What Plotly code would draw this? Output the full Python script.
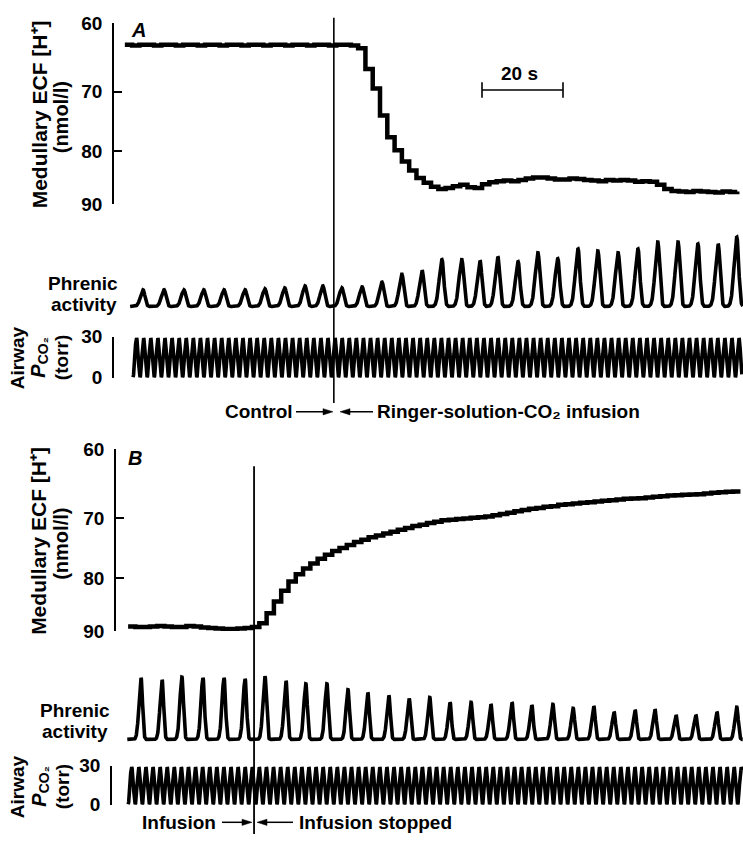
import numpy as np
import plotly.graph_objects as go

W, H = 743, 845
FONT = "Liberation Sans"
PX_PER_S = 4.05            # horizontal scale of both records (20 s = 81 px)
T_LEFT_PX = 120            # pixel column where t = 0
T_SPAN = (W - T_LEFT_PX) / PX_PER_S

# ---------------- Panel A: Ringer-solution-CO2 infusion ----------------
# medullary ECF [H+] (nmol/l), one reading per ventilator cycle
h_dt = 1.8
hA_t0 = 1.2
hA = [63.0, 63.1, 63.0, 63.0, 63.1, 63.0, 63.0, 63.1, 63.0, 63.0,
      63.1, 63.0, 63.0, 63.1, 63.0, 63.0, 63.1, 63.0, 63.0, 63.1,
      63.0, 63.0, 63.1, 63.0, 63.0, 63.1, 63.0, 63.0, 63.1, 63.0,
      63.0, 63.1, 63.5, 66.5, 69.5, 73.8, 77.5, 79.8, 81.8, 83.5,
      84.9, 85.8, 86.6, 87.0, 86.8, 86.5, 86.2, 86.7, 86.8, 86.1,
      85.7, 85.5, 85.4, 85.5, 85.3, 85.0, 84.8, 84.8, 85.0, 85.2,
      85.2, 85.0, 85.1, 85.3, 85.4, 85.5, 85.3, 85.4, 85.3, 85.4,
      85.6, 85.5, 85.6, 86.2, 87.0, 87.4, 87.5, 87.6, 87.4, 87.5,
      87.6, 87.7, 87.5, 87.6, 87.5]
# phrenic bursts: peak times (s) and heights (arbitrary units)
phrA_t = [5.7, 10.9, 15.8, 20.7, 25.7, 30.9, 35.8, 40.7, 45.7, 50.1,
          54.8, 59.8, 64.7, 69.6, 74.6, 79.5, 84.4, 88.9, 93.3, 98.3,
          103.2, 108.1, 113.1, 118.0, 123.0, 127.9, 132.8, 137.8, 142.7,
          147.7, 152.3]
phrA_amp = [17, 17, 17, 17, 17, 17, 18, 19, 21, 21,
            19, 20, 25, 33, 37, 48, 48, 47, 51, 46,
            55, 49, 59, 57, 55, 59, 66, 66, 64, 64, 71]
pco2A_span = (3.2, 153.6)
markA_t = 52.8            # start of infusion

# ---------------- Panel B: infusion stopped ----------------
hB_t0 = 2.0
hB = [89.1, 89.2, 89.2, 89.1, 89.0, 89.1, 89.2, 89.2, 89.0, 89.1,
      89.3, 89.4, 89.5, 89.6, 89.6, 89.5, 89.4, 89.2, 88.5, 86.5,
      84.3, 82.3, 80.6, 79.3, 78.3, 77.4, 76.6, 75.9, 75.3, 74.8,
      74.3, 73.8, 73.4, 73.0, 72.7, 72.4, 72.1, 71.8, 71.5, 71.2,
      71.0, 70.7, 70.5, 70.3, 70.2, 70.1, 70.0, 69.9, 69.8, 69.7,
      69.5, 69.3, 69.1, 68.9, 68.7, 68.5, 68.4, 68.2, 68.1, 67.9,
      67.8, 67.7, 67.6, 67.5, 67.4, 67.3, 67.2, 67.1, 67.0, 66.95,
      66.9, 66.8, 66.7, 66.6, 66.5, 66.45, 66.4, 66.35, 66.3, 66.2,
      66.1, 66.0, 65.95, 65.9, 65.9]
phrB_t = [5.2, 10.4, 15.3, 20.5, 25.7, 30.9, 35.8, 41.0, 45.9, 51.1,
          56.3, 61.2, 66.4, 71.4, 76.5, 81.5, 86.7, 91.6, 96.8, 101.7,
          106.9, 111.9, 117.0, 122.0, 127.2, 132.1, 137.3, 142.2, 147.4,
          152.3]
phrB_amp = [63, 61, 64, 63, 63, 62, 65, 60, 57, 57,
            51, 48, 45, 42, 43, 38, 38, 36, 38, 35,
            36, 32, 34, 28, 30, 31, 25, 25, 28, 33]
pco2B_span = (2.0, 153.6)
markB_t = 33.1            # infusion stopped

# airway CO2 (torr) from the ventilator cycle
vent_period = 1.75
pco2_peak, pco2_floor = 29.0, 0.3
# burst rise / decay time constants (s) for each record
burstA = (0.95, 0.65)
burstB = (0.72, 0.5)


def phrenic_wave(times, amps, t0, t1, rise, fall):
    t = np.arange(t0, t1, 0.04)
    y = np.zeros_like(t)
    for tp, a in zip(times, amps):
        d = t - tp
        s = np.where(d < 0, rise, fall)
        y += a * np.exp(-(d / s) ** 2)
    return t, y


def pco2_wave(t0, t1):
    t = np.arange(t0, t1, 0.05)
    ph = 2 * np.pi * (t - t0) / vent_period
    return t, pco2_floor + (pco2_peak - pco2_floor) * (0.5 - 0.5 * np.cos(ph))


def fx(p):
    return p / W


def fy(p):
    return 1 - p / H


fig = go.Figure()
K = "black"

tA = [hA_t0 + i * h_dt for i in range(len(hA))]
tB = [hB_t0 + i * h_dt for i in range(len(hB))]
fig.add_trace(go.Scatter(x=tA, y=hA, yaxis="y", mode="lines",
                         line=dict(color=K, width=4.5, shape="hv")))
t, y = phrenic_wave(phrA_t, phrA_amp, 2.5, 153.8, *burstA)
fig.add_trace(go.Scatter(x=t, y=y, yaxis="y2", mode="lines", line=dict(color=K, width=3.6)))
t, y = pco2_wave(*pco2A_span)
fig.add_trace(go.Scatter(x=t, y=y, yaxis="y3", mode="lines", line=dict(color=K, width=3.6)))

fig.add_trace(go.Scatter(x=tB, y=hB, yaxis="y4", mode="lines",
                         line=dict(color=K, width=4.5, shape="hv")))
t, y = phrenic_wave(phrB_t, phrB_amp, 1.8, 153.8, *burstB)
fig.add_trace(go.Scatter(x=t, y=y, yaxis="y5", mode="lines", line=dict(color=K, width=3.6)))
t, y = pco2_wave(*pco2B_span)
fig.add_trace(go.Scatter(x=t, y=y, yaxis="y6", mode="lines", line=dict(color=K, width=3.6)))

tickfont = dict(family=FONT, size=19, color=K, weight="bold")


def conc_axis(top, bottom, xpos):
    return dict(domain=[fy(bottom), fy(top)], type="log",
                range=[np.log10(90), np.log10(60)],
                tickvals=[60, 70, 80, 90], ticktext=["60", "70", "80", "90"],
                ticks="inside", ticklen=8, tickwidth=1.6, tickcolor=K,
                showline=True, linewidth=1.6, linecolor=K,
                anchor="free", position=fx(xpos), showgrid=False,
                zeroline=False, tickfont=tickfont, ticklabelstandoff=6)


def pco2_axis(top, bottom, xpos):
    return dict(domain=[fy(bottom), fy(top)], range=[0, 30],
                tickvals=[0, 30], ticktext=["0", "30"],
                ticks="inside", ticklen=8, tickwidth=1.6,
                tickcolor=K, showline=True, linewidth=1.6, linecolor=K,
                anchor="free", position=fx(xpos), showgrid=False,
                zeroline=False, tickfont=tickfont, ticklabelstandoff=6)


def phrenic_axis(top, bottom, base):
    return dict(domain=[fy(bottom), fy(top)], range=[base - bottom, base - top],
                visible=False, anchor="free", position=0)


fig.update_layout(
    width=W, height=H, margin=dict(l=0, r=0, t=0, b=0),
    paper_bgcolor="white", plot_bgcolor="white", showlegend=False,
    xaxis=dict(domain=[fx(T_LEFT_PX), 1], range=[0, T_SPAN], visible=False),
    yaxis=conc_axis(13.3, 199, 113),
    yaxis2=phrenic_axis(222, 310, 304),
    yaxis3=pco2_axis(335, 377, 113),
    yaxis4=conc_axis(450.7, 636.7, 115),
    yaxis5=phrenic_axis(660, 754, 748),
    yaxis6=pco2_axis(775, 815, 111),
)

shapes = []
# event markers
shapes.append(dict(type="line", xref="x", yref="paper", x0=markA_t, x1=markA_t,
                   y0=fy(8), y1=fy(403), line=dict(color=K, width=1.6)))
shapes.append(dict(type="line", xref="x", yref="paper", x0=markB_t, x1=markB_t,
                   y0=fy(468), y1=fy(845), line=dict(color=K, width=1.8)))
# 20 s time bar
bar_t0 = (482 - T_LEFT_PX) / PX_PER_S
shapes.append(dict(type="line", xref="x", yref="paper", x0=bar_t0, x1=bar_t0 + 20,
                   y0=fy(82), y1=fy(82), line=dict(color=K, width=1.6)))
for bt in (bar_t0, bar_t0 + 20):
    shapes.append(dict(type="line", xref="x", yref="paper", x0=bt, x1=bt,
                       y0=fy(74), y1=fy(90), line=dict(color=K, width=1.6)))


def arrow(x_head, x_tail, y):
    """Horizontal arrow with a filled triangular head (pixel coordinates)."""
    d = 1 if x_head > x_tail else -1
    hl, hw = 10, 3.2
    shapes.append(dict(type="line", xref="paper", yref="paper",
                       x0=fx(x_tail), x1=fx(x_head - d * hl * 0.6), y0=fy(y), y1=fy(y),
                       line=dict(color=K, width=1.5)))
    path = (f"M {fx(x_head)} {fy(y)} L {fx(x_head - d * hl)} {fy(y - hw)} "
            f"L {fx(x_head - d * hl)} {fy(y + hw)} Z")
    shapes.append(dict(type="path", xref="paper", yref="paper", path=path,
                       fillcolor=K, line=dict(color=K, width=0.5)))


arrow(333, 296, 412)
arrow(340, 373, 412)
arrow(252, 222, 833)
arrow(257, 293, 833)
fig.update_layout(shapes=shapes)

ann = []


def label(text, x, y, size=19, angle=0, xanchor="center", italic=False):
    ann.append(dict(text=text, x=fx(x), y=fy(y), xref="paper", yref="paper",
                    showarrow=False, textangle=angle, xanchor=xanchor, yanchor="middle",
                    font=dict(family=FONT, size=size, color=K, weight="bold",
                              style="italic" if italic else "normal")))


for dy in (0, 437.4):
    label("Medullary ECF [H⁺]", 39, 107 + dy, size=21, angle=-90)
    label("(nmol/l)", 61, 110 + dy, size=20, angle=-90)

label("A", 138, 21, size=20, italic=True)
label("B", 135, 459, size=20, italic=True)
label("20 s", 519, 65)

label("Phrenic", 83, 280)
label("activity", 84, 302)
label("Phrenic", 75, 718)
label("activity", 75, 740)

for dy, dx in ((0, 0), (440, 1)):
    label("Airway", 17, 357 + dy, angle=-90)
    label("P", 38 + dx, 370 + dy, size=20, angle=-90, italic=True)
    label("CO₂", 43 + dx, 350 + dy, size=14, angle=-90)
    label("(torr)", 61 + dx, 357 + dy, angle=-90)

label("Control", 223, 412, xanchor="left")
label("Ringer-solution-CO₂ infusion", 375, 412, xanchor="left")
label("Infusion", 140, 833, xanchor="left")
label("Infusion stopped", 297, 833, xanchor="left")

fig.update_layout(annotations=ann)
fig.write_html("out.html")
